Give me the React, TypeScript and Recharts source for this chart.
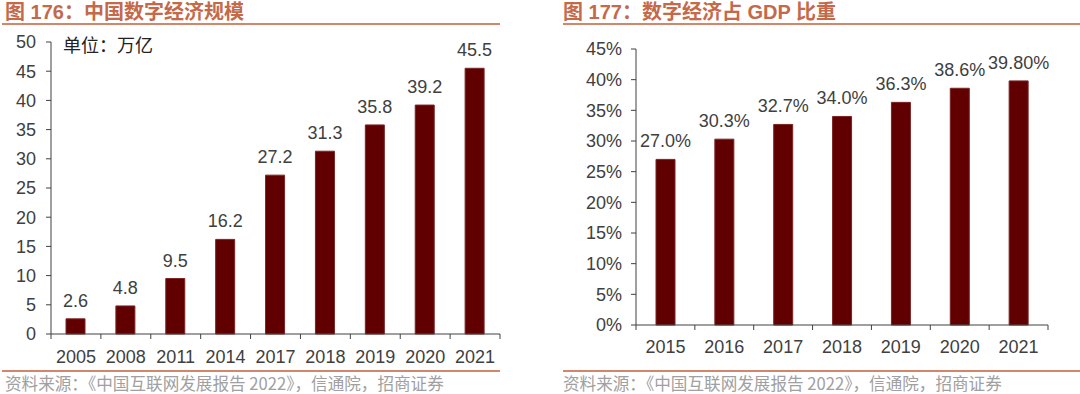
import React from 'react';
import { BarChart, Bar, XAxis, YAxis, LabelList } from 'recharts';

const leftYears = ['2005', '2008', '2011', '2014', '2017', '2018', '2019', '2020', '2021'];
const leftValues = [2.6, 4.8, 9.5, 16.2, 27.2, 31.3, 35.8, 39.2, 45.5];
const leftTicks = [0, 5, 10, 15, 20, 25, 30, 35, 40, 45, 50];

const rightYears = ['2015', '2016', '2017', '2018', '2019', '2020', '2021'];
const rightValues = [27.0, 30.3, 32.7, 34.0, 36.3, 38.6, 39.8];
const rightLabels = ['27.0%', '30.3%', '32.7%', '34.0%', '36.3%', '38.6%', '39.80%'];
const rightTicks = [0, 5, 10, 15, 20, 25, 30, 35, 40, 45];

const leftTitle = '图 176：中国数字经济规模';
const rightTitle = '图 177：数字经济占 GDP 比重';
const unitText = '单位：万亿';
const sourceText = '资料来源：《中国互联网发展报告 2022》，信通院，招商证券';

const leftData = leftYears.map((year, i) => ({ year, value: leftValues[i] }));
const rightData = rightYears.map((year, i) => ({ year, value: rightValues[i], label: rightLabels[i] }));

const FONT = '"Liberation Sans", Arial, "Noto Sans CJK SC", sans-serif';
const TEXT = '#404040';
const AXIS = '#404040';
const BAR = '#600000';
const BAR_STROKE = '#7a2424';
const TITLE = '#C4694A';
const RULE = '#D2866A';
const SOURCE = '#A0A0A0';

const makeTick = (bw: number, n: number, labelDy: number) => (props: any) => {
  const { x, y, payload, index } = props;
  const left = x - bw / 2;
  const right = x + bw / 2;
  return (
    <g>
      <line x1={left} y1={y} x2={left} y2={y + 5} stroke={AXIS} strokeWidth={1} />
      {index === n - 1 && <line x1={right} y1={y} x2={right} y2={y + 5} stroke={AXIS} strokeWidth={1} />}
      <text x={x} y={y + labelDy} textAnchor="middle" fill={TEXT} fontSize={18} fontFamily={FONT}>
        {payload.value}
      </text>
    </g>
  );
};

const Title = ({ x, text, lineX1, lineX2 }: { x: number; text: string; lineX1: number; lineX2: number }) => (
  <>
    <div
      style={{
        position: 'absolute',
        left: x,
        top: 0,
        fontFamily: '"Liberation Sans", Arial, "Noto Sans CJK SC", sans-serif',
        fontWeight: 'bold',
        fontSize: 20,
        lineHeight: '24px',
        color: TITLE,
        whiteSpace: 'nowrap',
      }}
    >
      {text}
    </div>
    <div style={{ position: 'absolute', left: lineX1, top: 23, width: lineX2 - lineX1, height: 2, background: RULE }} />
  </>
);

const Source = ({ x, lineX1, lineX2 }: { x: number; lineX1: number; lineX2: number }) => (
  <>
    <div style={{ position: 'absolute', left: lineX1, top: 370, width: lineX2 - lineX1, height: 2, background: RULE }} />
    <div
      style={{
        position: 'absolute',
        left: x,
        top: 373,
        fontFamily: '"Noto Sans CJK SC", sans-serif',
        fontSize: 16.6,
        lineHeight: '20px',
        color: SOURCE,
        whiteSpace: 'nowrap',
      }}
    >
      {sourceText}
    </div>
  </>
);

export default function App() {
  const leftPlotW = 500 - 51;
  const rightPlotW = 1048 - 636;
  return (
    <div style={{ position: 'absolute', left: 0, top: 0, width: 1080, height: 394, background: '#fff', overflow: 'hidden' }}>
      <Title x={5} text={leftTitle} lineX1={2} lineX2={500} />
      <Title x={563} text={rightTitle} lineX1={563} lineX2={1080} />

      <div style={{ position: 'absolute', left: 0, top: 0 }}>
        <BarChart width={540} height={394} data={leftData} margin={{ top: 42, right: 40, bottom: 30, left: 0 }} barCategoryGap={0}>
          <XAxis
            dataKey="year"
            height={30}
            stroke={AXIS}
            tickLine={false}
            tickSize={0}
            tickMargin={0}
            interval={0}
            tick={makeTick(leftPlotW / leftYears.length, leftYears.length, 29)}
          />
          <YAxis
            width={51}
            domain={[0, 50]}
            ticks={leftTicks}
            interval={0}
            stroke={AXIS}
            tickSize={5}
            tickMargin={10}
            tick={{ fill: TEXT, fontSize: 18, fontFamily: FONT }}
          />
          <Bar dataKey="value" fill={BAR} stroke={BAR_STROKE} strokeWidth={1} barSize={19} isAnimationActive={false}>
            <LabelList
              dataKey="value"
              position="top"
              offset={12}
              formatter={(v: any) => Number(v).toFixed(1)}
              style={{ fill: TEXT, fontSize: 18, fontFamily: FONT }}
            />
          </Bar>
        </BarChart>
      </div>

      <div style={{ position: 'absolute', left: 63, top: 33, fontFamily: '"Noto Sans CJK SC", serif', fontSize: 18, lineHeight: '22px', color: '#222' }}>
        {unitText}
      </div>

      <div style={{ position: 'absolute', left: 540, top: 0 }}>
        <BarChart width={540} height={394} data={rightData} margin={{ top: 49, right: 32, bottom: 39, left: 0 }} barCategoryGap={0}>
          <XAxis
            dataKey="year"
            height={30}
            stroke={AXIS}
            tickLine={false}
            tickSize={0}
            tickMargin={0}
            interval={0}
            tick={makeTick(rightPlotW / rightYears.length, rightYears.length, 28)}
          />
          <YAxis
            width={96}
            domain={[0, 45]}
            ticks={rightTicks}
            interval={0}
            stroke={AXIS}
            tickSize={5}
            tickMargin={9}
            tickFormatter={(v: number) => `${v}%`}
            tick={{ fill: TEXT, fontSize: 18, fontFamily: FONT }}
          />
          <Bar dataKey="value" fill={BAR} stroke={BAR_STROKE} strokeWidth={1} barSize={19} isAnimationActive={false}>
            <LabelList dataKey="label" position="top" offset={12} style={{ fill: TEXT, fontSize: 18, fontFamily: FONT }} />
          </Bar>
        </BarChart>
      </div>

      <Source x={5} lineX1={2} lineX2={500} />
      <Source x={563} lineX1={563} lineX2={1080} />
    </div>
  );
}
